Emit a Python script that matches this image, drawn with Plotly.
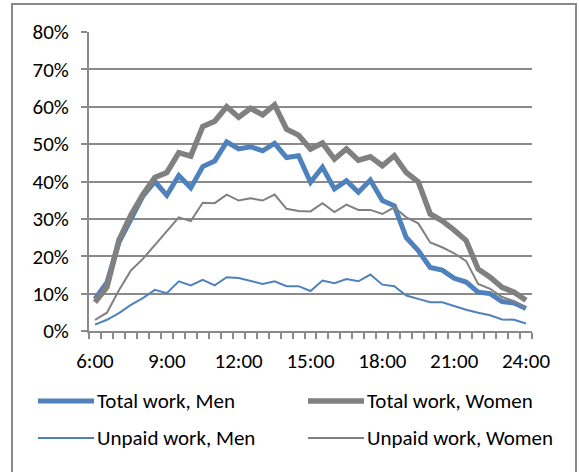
import plotly.graph_objects as go

# ---- data (shares of people working, by half-hour) ----
hours = [6.0, 6.5, 7.0, 7.5, 8.0, 8.5, 9.0, 9.5, 10.0, 10.5, 11.0, 11.5, 12.0,
         12.5, 13.0, 13.5, 14.0, 14.5, 15.0, 15.5, 16.0, 16.5, 17.0, 17.5, 18.0,
         18.5, 19.0, 19.5, 20.0, 20.5, 21.0, 21.5, 22.0, 22.5, 23.0, 23.5, 24.0]

total_men = [8.6, 13.0, 23.7, 30.1, 36.1, 40.0, 36.3, 41.6, 38.3, 44.0, 45.5, 50.6,
             48.7, 49.3, 48.2, 50.2, 46.4, 46.9, 39.8, 43.8, 38.0, 40.2, 37.1, 40.4,
             34.9, 33.5, 25.0, 21.5, 17.0, 16.3, 14.1, 13.1, 10.4, 10.0, 7.9, 7.5, 6.0]
total_women = [7.7, 11.8, 24.3, 31.0, 36.5, 41.1, 42.4, 47.7, 46.8, 54.7, 56.1, 60.0,
               57.2, 59.6, 57.8, 60.5, 54.0, 52.4, 48.7, 50.3, 46.0, 48.7, 45.7, 46.6,
               44.2, 46.9, 42.4, 39.9, 31.3, 29.5, 27.0, 24.2, 16.6, 14.4, 11.7, 10.4, 8.2]
unpaid_men = [1.7, 3.0, 4.8, 7.0, 8.8, 11.0, 10.1, 13.3, 12.2, 13.7, 12.2, 14.4,
              14.2, 13.3, 12.6, 13.3, 12.0, 12.0, 10.7, 13.5, 12.8, 13.9, 13.3, 15.1,
              12.4, 12.0, 9.5, 8.6, 7.7, 7.7, 6.6, 5.7, 4.9, 4.2, 3.1, 3.0, 2.0]
unpaid_women = [3.0, 4.9, 10.9, 16.2, 19.3, 23.1, 26.7, 30.4, 29.4, 34.3, 34.2, 36.5,
                34.9, 35.5, 34.9, 36.5, 32.7, 32.1, 32.0, 34.2, 31.8, 33.8, 32.4, 32.4,
                31.3, 33.1, 30.4, 28.8, 23.7, 22.4, 20.8, 18.7, 12.6, 11.3, 9.1, 8.0, 6.2]

series_names = ["Total work, Men", "Total work, Women",
                "Unpaid work, Men", "Unpaid work, Women"]
x_tick_vals = [6, 9, 12, 15, 18, 21, 24]
x_tick_text = ["6:00", "9:00", "12:00", "15:00", "18:00", "21:00", "24:00"]
y_tick_vals = [0, 10, 20, 30, 40, 50, 60, 70, 80]
y_tick_text = ["0%", "10%", "20%", "30%", "40%", "50%", "60%", "70%", "80%"]

# ---- styling ----
BLUE = "#4f81bd"
GRAY = "#808080"
GRID = "#8a8a8a"
FONT = "Carlito, Calibri, Lato, sans-serif"
FS = 21
W, H = 579, 472
L, R, T, B = 89, 532, 32, 331  # plot area in pixels

styles = [
    (total_men, BLUE, 5),
    (total_women, GRAY, 5.5),
    (unpaid_men, BLUE, 2),
    (unpaid_women, GRAY, 2),
]

fig = go.Figure()
for k in [0, 1, 2, 3]:
    vals, col, wd = styles[k]
    fig.add_trace(go.Scatter(x=hours, y=vals, mode="lines", name=series_names[k],
                             line=dict(color=col, width=wd), showlegend=False))


def px_x(x):
    return (x - L) / (R - L)


def px_y(y):
    return (B - y) / (B - T)


shapes = []
annotations = []
# outer chart border
shapes.append(dict(type="rect", xref="paper", yref="paper",
                   x0=px_x(12), x1=px_x(576), y0=px_y(490), y1=px_y(4),
                   line=dict(color=GRID, width=2), fillcolor="rgba(0,0,0,0)", layer="below"))

# manual legend (two columns, two rows)
leg_pos = [(38, 401), (308, 401), (38, 438), (308, 438)]
for k, (lx, ly) in enumerate(leg_pos):
    vals, col, wd = styles[k]
    shapes.append(dict(type="line", xref="paper", yref="paper",
                       x0=px_x(lx), x1=px_x(lx + 56), y0=px_y(ly), y1=px_y(ly),
                       line=dict(color=col, width=wd)))
    annotations.append(dict(xref="paper", yref="paper", x=px_x(lx + 57), y=px_y(ly),
                            xanchor="left", yanchor="middle", showarrow=False,
                            text=series_names[k], font=dict(family=FONT, size=FS, color="#000")))

boundaries = [h - 0.25 for h in hours] + [hours[-1] + 0.25]

fig.update_layout(
    width=W, height=H,
    margin=dict(l=L, r=W - R, t=T, b=H - B, pad=0),
    paper_bgcolor="white", plot_bgcolor="white",
    font=dict(family=FONT, size=FS, color="#000"),
    shapes=shapes, annotations=annotations,
    xaxis=dict(range=[hours[0] - 0.25, hours[-1] + 0.25],
               tickmode="array", tickvals=x_tick_vals, ticktext=x_tick_text,
               ticks="", showgrid=False, zeroline=False,
               showline=True, linecolor=GRID, linewidth=2,
               ticklabelstandoff=10,
               minor=dict(tickmode="array", tickvals=boundaries, ticks="outside",
                          ticklen=6, tickwidth=2, tickcolor=GRID, showgrid=False)),
    yaxis=dict(range=[0, 80], tickmode="array", tickvals=y_tick_vals, ticktext=y_tick_text,
               ticks="outside", ticklen=6, tickwidth=2, tickcolor=GRID,
               showgrid=True, gridcolor=GRID, gridwidth=2, zeroline=False,
               showline=True, linecolor=GRID, linewidth=2,
               ticklabelstandoff=8),
)

fig.write_html("out.html", config={"displayModeBar": False},
               post_script="document.body.style.margin='0';")
